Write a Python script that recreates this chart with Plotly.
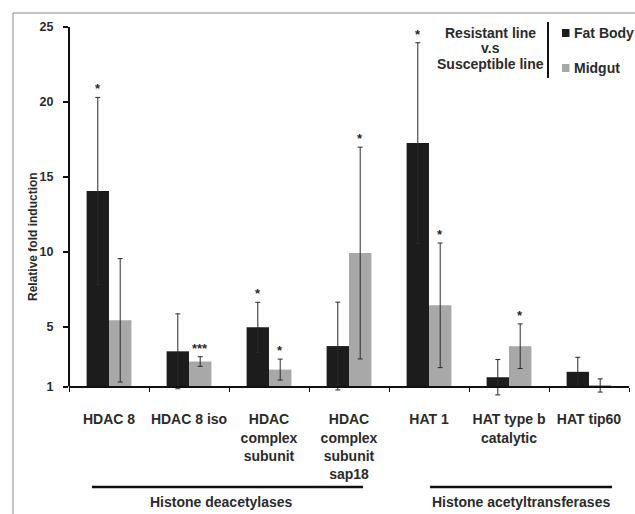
import plotly.graph_objects as go

# Gene targets on the x axis
genes = [
    "HDAC 8",
    "HDAC 8 iso",
    "HDAC<br>complex<br>subunit",
    "HDAC<br>complex<br>subunit<br>sap18",
    "HAT 1",
    "HAT type b<br>catalytic",
    "HAT tip60",
]

# Relative fold induction (resistant vs susceptible line)
fat_body = [14.05, 3.35, 4.95, 3.70, 17.25, 1.62, 1.98]
fat_body_err = [6.25, 2.50, 1.67, 2.93, 6.70, 1.18, 0.97]
fat_body_sig = ["*", "", "*", "", "*", "", ""]

midgut = [5.42, 2.67, 2.13, 9.91, 6.42, 3.69, 1.07]
midgut_err = [4.12, 0.32, 0.70, 7.07, 4.16, 1.49, 0.44]
midgut_sig = ["", "***", "*", "*", "*", "*", ""]

y_ticks = [1, 5, 10, 15, 20, 25]
BASELINE = 1
Y_MIN, Y_MAX = 0.3, 25

FAT_COLOR = "#1c1c1c"
MID_COLOR = "#a8a8a8"
TEXT_COLOR = "#2b2b2b"
ERR_COLOR = "#2a2a2a"
FONT = "Liberation Sans, Arial, sans-serif"
LABEL_SIZE = 14

fig = go.Figure()
for name, vals, errs, color in [
    ("Fat Body", fat_body, fat_body_err, FAT_COLOR),
    ("Midgut", midgut, midgut_err, MID_COLOR),
]:
    fig.add_trace(go.Bar(
        name=name,
        x=genes,
        y=[v - BASELINE for v in vals],
        base=BASELINE,
        marker=dict(color=color, line=dict(width=0)),
        error_y=dict(type="data", array=errs, symmetric=True,
                     color=ERR_COLOR, thickness=1, width=2.5),
        showlegend=False,
    ))

# Significance stars above the error caps
bar_offset = 11.2
for vals, errs, sig, dx in [
    (fat_body, fat_body_err, fat_body_sig, -bar_offset),
    (midgut, midgut_err, midgut_sig, bar_offset),
]:
    for i, s in enumerate(sig):
        if not s:
            continue
        fig.add_annotation(
            x=i, y=vals[i] + errs[i], xref="x", yref="y",
            text=s, showarrow=False, xshift=dx, yshift=-1,
            xanchor="center", yanchor="bottom",
            font=dict(family=FONT, size=13, color=TEXT_COLOR, weight="bold"),
        )

plot_h = 514 - 27 - 117
x_axis_pos = (BASELINE - Y_MIN) / (Y_MAX - Y_MIN)


def px_x(px):
    return (px - 69) / 560


def px_y(py):
    return (27 + plot_h - py) / plot_h


fig.update_layout(
    width=635, height=514,
    margin=dict(l=69, r=6, t=27, b=117),
    paper_bgcolor="white", plot_bgcolor="white",
    barmode="group", bargap=0.44, bargroupgap=0,
    font=dict(family=FONT, color=TEXT_COLOR),
    xaxis=dict(
        type="category", anchor="free", position=x_axis_pos,
        showline=True, linecolor="#111111", linewidth=2,
        ticks="outside", tickson="boundaries", ticklen=4,
        tickcolor="#111111", tickwidth=1,
        tickangle=0, automargin=False,
        tickfont=dict(family=FONT, size=LABEL_SIZE, color=TEXT_COLOR, weight="bold"),
        ticklabelstandoff=20,
        showgrid=False, zeroline=False,
        range=[-0.5, 6.5],
    ),
    yaxis=dict(
        range=[Y_MIN, Y_MAX], tickvals=y_ticks, automargin=False,
        showline=False, showgrid=False, zeroline=False,
        ticks="outside", ticklen=5, tickcolor="#111111", tickwidth=1.5,
        tickfont=dict(family=FONT, size=12.5, color=TEXT_COLOR, weight="bold"),
        ticklabelstandoff=7,
    ),
)

# Y axis title
fig.add_annotation(x=px_x(33), y=px_y(237), xref="paper", yref="paper",
                   text="Relative fold induction", textangle=-90,
                   showarrow=False, xanchor="center", yanchor="middle",
                   font=dict(family=FONT, size=12, color=TEXT_COLOR, weight="bold"))

# Y axis line running from the baseline to the top
fig.add_shape(type="line", xref="paper", yref="y", x0=0, x1=0,
              y0=BASELINE, y1=Y_MAX, line=dict(color="#111111", width=2))

# Frame lines around the figure (left and top)
fig.add_shape(type="line", xref="paper", yref="paper",
              x0=px_x(13), x1=px_x(13), y0=px_y(13), y1=px_y(520),
              line=dict(color="#8a8a8a", width=1))
fig.add_shape(type="line", xref="paper", yref="paper",
              x0=px_x(13), x1=px_x(640), y0=px_y(13), y1=px_y(13),
              line=dict(color="#8a8a8a", width=1))

# Gene family brackets under the categories
groups = [
    ("Histone deacetylases", -0.2125, 3.175, 1.41),
    ("Histone acetyltransferases", 4.0125, 6.2875, 5.15),
]
for label, x0, x1, xc in groups:
    fig.add_shape(type="line", xref="x", yref="paper", x0=x0, x1=x1,
                  y0=px_y(487), y1=px_y(487), line=dict(color="#111111", width=2.5))
    fig.add_annotation(x=xc, y=px_y(502), xref="x", yref="paper", text=label,
                       showarrow=False, xanchor="center", yanchor="middle",
                       font=dict(family=FONT, size=LABEL_SIZE, color=TEXT_COLOR, weight="bold"))

# Legend block
for line_text, cy in [("Resistant line", 33), ("v.s", 48), ("Susceptible line", 64)]:
    fig.add_annotation(x=px_x(490), y=px_y(cy), xref="paper", yref="paper",
                       text=line_text, showarrow=False,
                       xanchor="center", yanchor="middle",
                       font=dict(family=FONT, size=LABEL_SIZE, color=TEXT_COLOR, weight="bold"))
fig.add_shape(type="line", xref="paper", yref="paper",
              x0=px_x(548), x1=px_x(548), y0=px_y(22), y1=px_y(78),
              line=dict(color="#111111", width=2))
for name, color, cy in [("Fat Body", FAT_COLOR, 33), ("Midgut", MID_COLOR, 68)]:
    fig.add_shape(type="rect", xref="paper", yref="paper",
                  x0=px_x(562), x1=px_x(569.5), y0=px_y(cy - 4), y1=px_y(cy + 4),
                  fillcolor=color, line=dict(width=0))
    fig.add_annotation(x=px_x(572), y=px_y(cy), xref="paper", yref="paper",
                       text=name, showarrow=False, xanchor="left", yanchor="middle",
                       font=dict(family=FONT, size=LABEL_SIZE, color=TEXT_COLOR, weight="bold"))

fig.write_html("out.html")
